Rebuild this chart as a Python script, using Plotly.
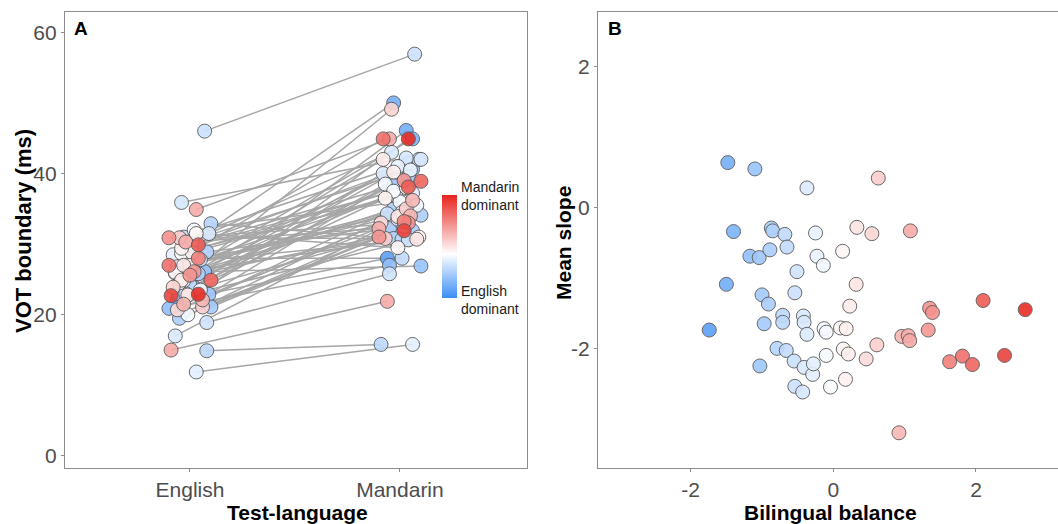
import plotly.graph_objects as go

# ---- data (one entry per participant) ----
balance = [-1.74, -1.50, -1.48, -1.40, -1.17, -1.10, -1.04, -1.03, -1.00, -0.97,
           -0.91, -0.89, -0.87, -0.85, -0.79, -0.71, -0.71, -0.68, -0.66, -0.65,
           -0.55, -0.54, -0.54, -0.51, -0.43, -0.42, -0.41, -0.41, -0.37, -0.37,
           -0.29, -0.28, -0.25, -0.23, -0.14, -0.13, -0.10, -0.10, -0.04,
           0.10, 0.13, 0.14, 0.17, 0.18, 0.21, 0.23, 0.32, 0.33, 0.46,
           0.54, 0.61, 0.63, 0.92, 0.96, 1.05, 1.07, 1.08, 1.33, 1.35,
           1.39, 1.63, 1.81, 1.95, 2.10, 2.40, 2.69]
mean_slope = [-1.74, -1.09, 0.64, -0.34, -0.69, 0.55, -0.71, -2.25, -1.24, -1.65,
              -1.37, -0.60, -0.29, -0.33, -2.00, -1.53, -1.63, -0.38, -2.03, -0.56,
              -2.18, -1.21, -2.54, -0.91, -2.62, -1.54, -1.63, -2.27, 0.28, -1.80,
              -2.37, -2.22, -0.36, -0.69, -0.82, -1.72, -1.77, -2.10, -2.55,
              -1.71, -0.62, -2.01, -2.44, -1.72, -2.08, -1.40, -1.09, -0.28, -2.15,
              -0.37, -1.95, 0.42, -3.20, -1.83, -1.82, -1.89, -0.33, -1.74, -1.43,
              -1.49, -2.19, -2.11, -2.23, -1.32, -2.10, -1.45]
vot_english = [22.1, 23.9, 29.6, 27.3, 20.9, 26.1, 22.9, 22.9, 29.9, 21.1,
               20.4, 25.8, 19.5, 28.9, 32.9, 25.9, 14.9, 28.0, 31.0, 24.2,
               25.6, 46.0, 27.5, 18.9, 35.9, 26.5, 31.5, 17.0, 23.0, 27.8,
               28.5, 11.9, 24.8, 30.5, 26.8, 23.5, 20.0, 32.0, 28.7,
               31.5, 26.0, 28.8, 24.5, 29.4, 27.0, 24.9, 27.0, 22.8, 20.7,
               23.9, 21.1, 30.9, 22.1, 21.5, 30.3, 15.0, 34.9, 26.1, 25.6,
               30.9, 28.0, 27.0, 24.9, 29.9, 22.7, 22.9]
vot_mandarin = [28.0, 46.1, 50.0, 44.9, 27.0, 26.9, 40.6, 39.5, 38.3, 31.9,
                31.9, 35.0, 34.1, 32.2, 30.8, 30.7, 15.8, 28.0, 41.5, 42.0,
                34.3, 56.9, 30.6, 25.8, 42.2, 42.0, 43.0, 33.5, 40.0, 36.9,
                37.2, 15.8, 41.0, 40.5, 35.5, 38.5, 32.5, 36.0, 37.5,
                29.5, 31.0, 36.5, 38.0, 40.2, 34.5, 42.0, 33.9, 30.7, 33.0,
                49.1, 35.0, 30.8, 36.2, 34.0, 32.2, 21.9, 44.9, 39.0, 31.0,
                33.0, 33.2, 44.9, 38.9, 38.1, 31.9, 44.9]
# horizontal jitter of each point around its category (category units)
jitter_english = [-0.06, 0.02, -0.02, 0.04, -0.10, 0.07, 0.09, -0.05, 0.01, 0.10,
                  -0.03, 0.04, -0.05, 0.08, 0.10, -0.07, 0.08, 0.02, -0.03, 0.00,
                  -0.04, 0.07, -0.01, 0.08, -0.04, 0.00, 0.09, -0.07, -0.02, 0.05,
                  -0.08, 0.03, -0.03, 0.01, -0.06, 0.05, -0.01, 0.02, -0.04,
                  0.03, -0.07, 0.01, -0.05, -0.04, 0.00, -0.04, -0.03, -0.01, -0.06,
                  -0.08, 0.06, -0.05, 0.06, -0.03, -0.02, -0.09, 0.03, 0.02, 0.00,
                  -0.10, 0.04, -0.10, 0.10, 0.04, -0.09, 0.04]
jitter_mandarin = [-0.06, 0.03, -0.03, 0.06, -0.05, 0.10, 0.06, 0.04, -0.03, -0.02,
                   0.06, -0.03, 0.10, -0.05, -0.03, 0.01, -0.09, 0.01, 0.04, 0.09,
                   -0.06, 0.07, 0.04, -0.05, 0.03, 0.10, -0.04, -0.01, -0.08, -0.02,
                   0.06, 0.06, -0.01, 0.05, 0.08, -0.07, 0.02, 0.00, -0.03,
                   -0.01, 0.09, -0.07, 0.03, -0.03, 0.01, -0.08, -0.01, 0.08, -0.09,
                   -0.04, 0.03, -0.07, 0.06, 0.05, -0.10, -0.06, -0.05, 0.02, -0.10,
                   0.04, 0.02, -0.08, 0.10, 0.04, 0.02, 0.04]
categories = ["English", "Mandarin"]
cat_pos = [1, 2]
vot_ticks = [0, 20, 40, 60]
b_ticks = [-2, 0, 2]
b_ticktext = ["-2", "0", "2"]

# ---- styling ----
W, H = 1058, 524
BLUE, RED = "#3b8ef7", "#e8241c"
CMIN, CMAX = -2.1, 2.8
mid = (0 - CMIN) / (CMAX - CMIN)
cscale = [[0, BLUE], [mid, "#ffffff"], [1, RED]]
FONT = "Liberation Sans, Arial, sans-serif"


def px_x(p):
    return p / W


def px_y(p):
    return 1 - p / H


x_eng = [cat_pos[0] + j for j in jitter_english]
x_man = [cat_pos[1] + j for j in jitter_mandarin]

line_x, line_y = [], []
for xe, ye, xm, ym in zip(x_eng, vot_english, x_man, vot_mandarin):
    line_x += [xe, xm, None]
    line_y += [ye, ym, None]

fig = go.Figure()
fig.add_trace(go.Scatter(x=line_x, y=line_y, mode="lines",
                         line=dict(color="#a6a6a6", width=1.5),
                         hoverinfo="skip", showlegend=False,
                         xaxis="x", yaxis="y"))
marker_common = dict(size=14, colorscale=cscale, cmin=CMIN, cmax=CMAX,
                     line=dict(color="#595959", width=1), opacity=0.9)
fig.add_trace(go.Scatter(x=x_eng + x_man, y=vot_english + vot_mandarin,
                         mode="markers",
                         marker=dict(color=balance + balance,
                                     showscale=True,
                                     colorbar=dict(x=px_x(442), xanchor="left",
                                                   y=px_y(246.5), yanchor="middle",
                                                   thicknessmode="pixels", thickness=15,
                                                   lenmode="pixels", len=103,
                                                   xpad=0, ypad=0, outlinewidth=0,
                                                   showticklabels=False, ticks=""),
                                     **marker_common),
                         showlegend=False, xaxis="x", yaxis="y"))
fig.add_trace(go.Scatter(x=balance, y=mean_slope, mode="markers",
                         marker=dict(color=balance, showscale=False, **marker_common),
                         showlegend=False, xaxis="x2", yaxis="y2"))

tickfont = dict(family=FONT, size=21, color="#4d4d4d")
axis_common = dict(showgrid=False, zeroline=False, showline=True, mirror=True,
                   linecolor="#8c8c8c", linewidth=1.2, ticks="outside",
                   ticklen=3, tickcolor="#8c8c8c", tickwidth=1, tickfont=tickfont)
TOP, BOT = 12, 468
ydom = [px_y(BOT), px_y(TOP)]

fig.update_layout(
    width=W, height=H, margin=dict(l=0, r=0, t=0, b=0),
    paper_bgcolor="white", plot_bgcolor="white",
    font=dict(family=FONT),
    xaxis=dict(domain=[px_x(65), px_x(527)], range=[0.405, 2.605],
               tickvals=cat_pos, ticktext=categories, anchor="y", **axis_common),
    yaxis=dict(domain=ydom, range=[-1.70, 62.87], tickvals=vot_ticks,
               anchor="x", **axis_common),
    xaxis2=dict(domain=[px_x(598), 1.0], range=[-3.30, 3.15], tickvals=b_ticks,
                ticktext=b_ticktext, anchor="y2", **axis_common),
    yaxis2=dict(domain=ydom, range=[-3.70, 2.78], tickvals=b_ticks,
                ticktext=b_ticktext, anchor="x2", **axis_common),
)

ann = []


def add_text(text, x, y, size=21, xanchor="center", yanchor="middle", angle=0,
             color="black", bold=True, align="center"):
    ann.append(dict(text=f"<b>{text}</b>" if bold else text, x=px_x(x), y=px_y(y),
                    xref="paper", yref="paper", showarrow=False, align=align,
                    xanchor=xanchor, yanchor=yanchor, textangle=angle,
                    font=dict(family=FONT, size=size, color=color)))


add_text("Test-language", 297, 512)
add_text("Bilingual balance", 830, 512)
add_text("VOT boundary (ms)", 23, 231, size=22, angle=-90)
add_text("Mean slope", 563, 243, angle=-90)
add_text("A", 72, 29, size=19, xanchor="left")
add_text("B", 606, 29, size=19, xanchor="left")
add_text("Mandarin<br>dominant", 459, 196, size=14, xanchor="left",
         color="#1a1a1a", bold=False, align="left")
add_text("English<br>dominant", 459, 300, size=14, xanchor="left",
         color="#1a1a1a", bold=False, align="left")
fig.update_layout(annotations=ann)

fig.write_html("out.html")
